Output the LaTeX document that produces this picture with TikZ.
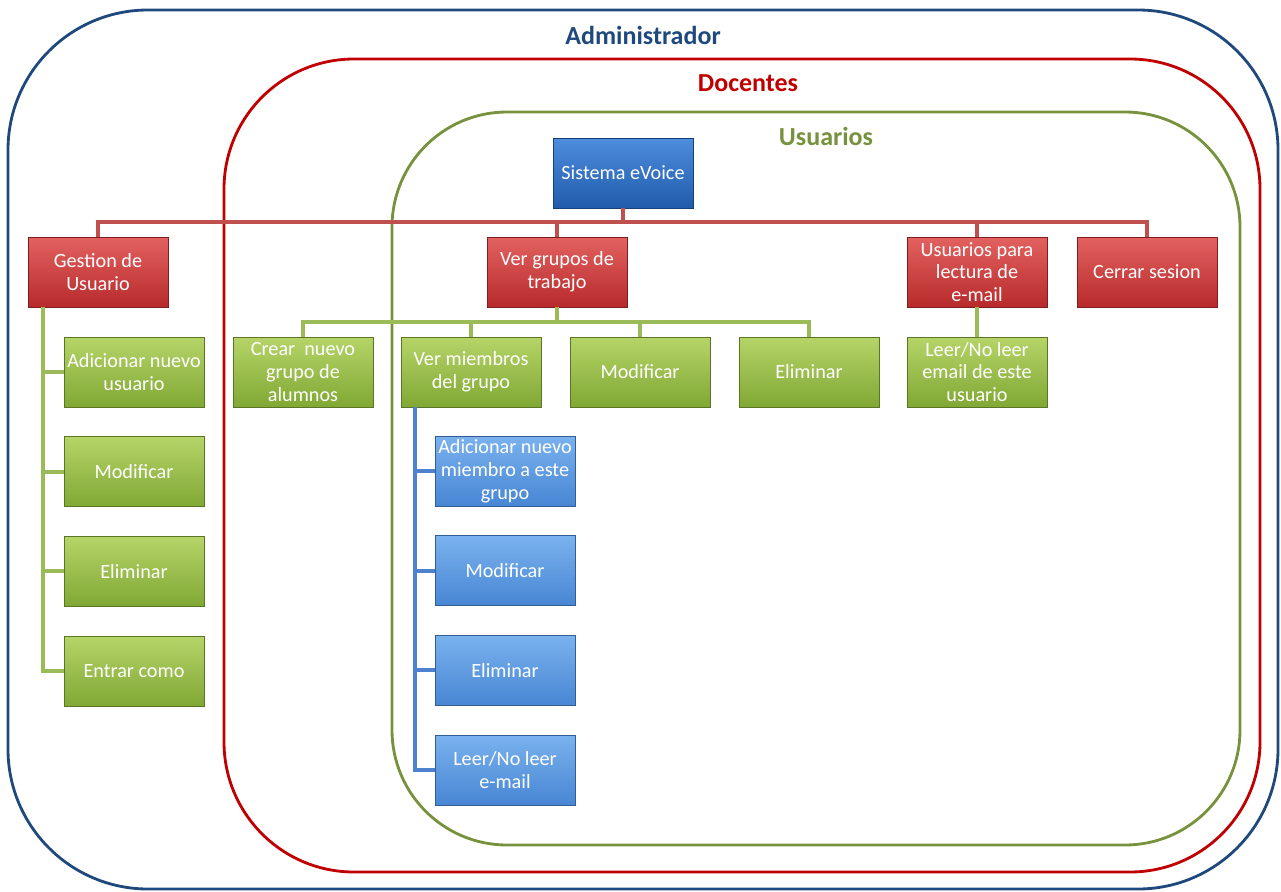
\documentclass[tikz,border=0pt]{standalone}
\usepackage{fontspec}
\setmainfont{Carlito}
\usepackage{xcolor}
\usetikzlibrary{positioning}

\definecolor{admblue}{RGB}{31,73,125}
\definecolor{docred}{RGB}{192,0,0}
\definecolor{usugreen}{RGB}{118,146,60}
\definecolor{redtop}{RGB}{226,98,96}
\definecolor{redbot}{RGB}{184,42,44}
\definecolor{greentop}{RGB}{182,212,104}
\definecolor{greenbot}{RGB}{128,168,52}
\definecolor{roottop}{RGB}{78,140,222}
\definecolor{rootbot}{RGB}{32,92,170}
\definecolor{bluetop}{RGB}{122,178,238}
\definecolor{bluebot}{RGB}{72,134,212}
\definecolor{linered}{RGB}{192,80,77}
\definecolor{linegreen}{RGB}{155,187,89}
\definecolor{lineblue}{RGB}{79,129,209}

\begin{document}
\begin{tikzpicture}[
    x=0.02cm, y=-0.02cm,
    node distance=0.58cm,
    box/.style={rectangle, minimum width=2.8cm, minimum height=1.4cm, inner sep=1pt, align=center, text=white, font=\fontsize{11.5}{13}\selectfont},
    rootbox/.style={box, top color=roottop, bottom color=rootbot, draw=rootbot!70!black},
    redbox/.style={box, top color=redtop, bottom color=redbot, draw=redbot!70!black},
    greenbox/.style={box, top color=greentop, bottom color=greenbot, draw=greenbot!70!black},
    bluebox/.style={box, top color=bluetop, bottom color=bluebot, draw=bluebot!70!black},
    redline/.style={draw=linered, line width=2.2pt},
    greenline/.style={draw=linegreen, line width=2.2pt},
    blueline/.style={draw=lineblue, line width=2.2pt},
    frame/.style={line width=1.6pt},
    title/.style={font=\fontsize{14.8}{16}\selectfont\bfseries},
]
\useasboundingbox (0,0) rectangle (1281,892);

% role frames
\draw[frame, draw=admblue, rounded corners=2.8cm] (8,10) rectangle (1278,889);
\draw[frame, draw=docred, rounded corners=2.6cm] (224,59) rectangle (1260,872);
\draw[frame, draw=usugreen, rounded corners=2.3cm] (392,112) rectangle (1240,845);
\node[title, text=admblue] (admin) at (643,35) {Administrador};
\node[title, text=docred] (docentes) at (748,83) {Docentes};
\node[title, text=usugreen] (usuarios) at (826,136) {Usuarios};

% top level
\node[rootbox] (sistema) at (623,173) {Sistema eVoice};
\node[redbox] (gestion) at (98,272) {Gestion de\\Usuario};
\node[redbox] (vergrupos) at (557,272) {Ver grupos de\\trabajo};
\node[redbox] (lectura) at (977,272) {Usuarios para\\lectura de\\e-mail};
\node[redbox] (cerrar) at (1147,272) {Cerrar sesion};

% gestion de usuario
\node[greenbox] (adduser) at (134,372) {Adicionar nuevo\\usuario};
\node[greenbox, below=of adduser] (moduser) {Modificar};
\node[greenbox, below=of moduser] (elimuser) {Eliminar};
\node[greenbox, below=of elimuser] (entrar) {Entrar como};

% grupos de trabajo
\node[greenbox] (crear) at (303,372) {Crear~ nuevo\\grupo de\\alumnos};
\node[greenbox] (vermiembros) at (471,372) {Ver miembros\\del grupo};
\node[greenbox] (modgrupo) at (640,372) {Modificar};
\node[greenbox] (elimgrupo) at (809,372) {Eliminar};
\node[greenbox] (leeremail) at (977,372) {Leer/No leer\\email de este\\usuario};

% miembros
\node[bluebox] (addmiembro) at (505,471) {Adicionar nuevo\\miembro a este\\grupo};
\node[bluebox, below=of addmiembro] (modmiembro) {Modificar};
\node[bluebox, below=of modmiembro] (elimmiembro) {Eliminar};
\node[bluebox, below=of elimmiembro] (leermiembro) {Leer/No leer\\e-mail};

\foreach \c in {gestion,vergrupos,lectura,cerrar}
  \draw[redline] (sistema.south) -- ++(0,14) -| (\c.north);
\foreach \c in {crear,vermiembros,modgrupo,elimgrupo}
  \draw[greenline] (vergrupos.south) -- ++(0,15) -| (\c.north);
\draw[greenline] (lectura) -- (leeremail);
\foreach \c in {adduser,moduser,elimuser,entrar}
  \draw[greenline] ([xshift=0.3cm]gestion.south west) |- (\c.west);
\foreach \c in {addmiembro,modmiembro,elimmiembro,leermiembro}
  \draw[blueline] ([xshift=0.28cm]vermiembros.south west) |- (\c.west);

\end{tikzpicture}
\end{document}
